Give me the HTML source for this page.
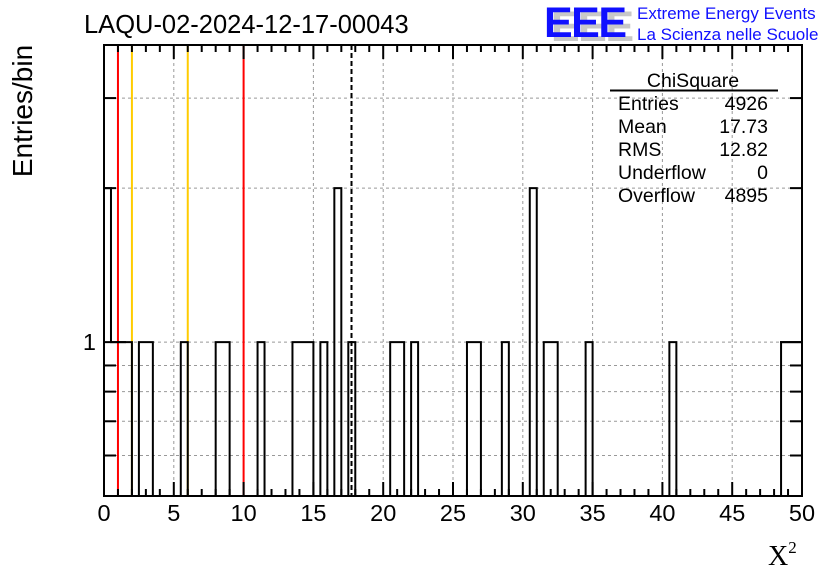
<!DOCTYPE html>
<html><head><meta charset="utf-8"><style>
body{margin:0;background:#fff;}
svg{display:block;font-family:"Liberation Sans",sans-serif;}
</style></head><body>
<svg id="c" width="836" height="572" viewBox="0 0 836 572" xmlns="http://www.w3.org/2000/svg">
<rect width="836" height="572" fill="#fff"/>
<g id="grid"></g>
<g id="vlines"></g>
<g id="bars"></g>
<g id="axes"></g>
<text x="84" y="33" font-size="25.5">LAQU-02-2024-12-17-00043</text>
<text transform="translate(32,111) rotate(-90)" text-anchor="middle" font-size="28">Entries/bin</text>
<text x="768" y="565" font-family="Liberation Serif,serif" font-size="28">X<tspan font-size="17" dy="-12">2</tspan></text>
<g>
<text x="551" y="41" font-size="43" font-weight="bold" fill="#c8c8c8" letter-spacing="-1.5">EEE</text>
<text x="544" y="37" font-size="43" font-weight="bold" fill="#1010ff" letter-spacing="-1.5">EEE</text>
<text x="637" y="19" font-size="17" fill="#1010ff">Extreme Energy Events</text>
<text x="637" y="40" font-size="17" fill="#1010ff">La Scienza nelle Scuole</text>
</g>
<g font-size="19.5">
<text x="693" y="87" text-anchor="middle">ChiSquare</text>
<line x1="610" y1="90.5" x2="778" y2="90.5" stroke="#000" stroke-width="2"/>
<text x="618" y="110">Entries</text><text x="768" y="110" text-anchor="end">4926</text>
<text x="618" y="133">Mean</text><text x="768" y="133" text-anchor="end">17.73</text>
<text x="618" y="156">RMS</text><text x="768" y="156" text-anchor="end">12.82</text>
<text x="618" y="179">Underflow</text><text x="768" y="179" text-anchor="end">0</text>
<text x="618" y="202">Overflow</text><text x="768" y="202" text-anchor="end">4895</text>
</g>
</svg>
<script>
const binStarts=[0,0.5,1,1.5,2.5,3,5.5,8,8.5,11,13.5,14,14.5,15.5,16.5,17.5,20.5,21,22,26,26.5,28.5,30.5,31.5,32,34.5,40.5,48.5,49,49.5];
const binCounts=[2,1,1,1,1,1,1,1,1,1,1,1,1,1,2,1,1,1,1,1,1,1,2,1,1,1,1,1,1,1];
const binWidth=0.5;
const xTicks=[0,5,10,15,20,25,30,35,40,45,50];
const yGrid=[0.6,0.7,0.8,0.9,1,2,3];
const redLines=[1,10];
const yellowLines=[2,6];
const meanLine=[17.73];
const NS="http://www.w3.org/2000/svg";
const L=104,R=802,T=45,B=496,xmin=0,xmax=50,ymin=0.5,ymax=3.81;
const X=v=>L+(v-xmin)/(xmax-xmin)*(R-L);
const Y=v=>B-(Math.log10(v)-Math.log10(ymin))/(Math.log10(ymax)-Math.log10(ymin))*(B-T);
function el(p,t,a){const e=document.createElementNS(NS,t);for(const k in a)e.setAttribute(k,a[k]);p.appendChild(e);return e;}
const g=document.getElementById('grid'),bg=document.getElementById('bars'),vg=document.getElementById('vlines'),ax=document.getElementById('axes');
xTicks.forEach(v=>{if(v>xmin&&v<xmax){const l=el(g,'line',{x1:X(v),x2:X(v),y1:T,y2:B,stroke:'#999','stroke-dasharray':'3,3'});

}});
yGrid.forEach(v=>{const l=el(g,'line',{x1:L,x2:R,y1:Y(v),y2:Y(v),stroke:'#999','stroke-dasharray':'3,3'});

});
redLines.forEach(v=>{const l=el(vg,'line',{x1:X(v),x2:X(v),y1:T,y2:B,stroke:'#f00','stroke-width':2});

});
yellowLines.forEach(v=>{const l=el(vg,'line',{x1:X(v),x2:X(v),y1:T,y2:B,stroke:'#fc0','stroke-width':2});

});
// invisible per-bin rects (data marks)
binStarts.forEach((s,i)=>{const r=el(bg,'rect',{x:X(s),y:Y(binCounts[i]),width:X(s+binWidth)-X(s),height:B-Y(binCounts[i]),fill:'none',stroke:'none'});

});
// histogram outline from data
const counts={};binStarts.forEach((s,i)=>counts[Math.round(s/binWidth)]=(counts[Math.round(s/binWidth)]||0)+binCounts[i]);
let d='M'+X(0)+','+B;let cur=B;
const nb=Math.round((xmax-xmin)/binWidth);
for(let i=0;i<nb;i++){const c=counts[i]||0;const y=c>0?Y(c):B;const x0=X(i*binWidth);
if(y!==cur){d+=' L'+x0+','+cur+' L'+x0+','+y;cur=y;}}
d+=' L'+X(xmax)+','+cur+' L'+X(xmax)+','+B;
const hp=el(bg,'path',{d:d,fill:'none',stroke:'#000','stroke-width':2});


meanLine.forEach(v=>{const l=el(vg,'line',{x1:X(v),x2:X(v),y1:T,y2:B,stroke:'#000','stroke-width':2,'stroke-dasharray':'5,3'});

});
const fr=el(ax,'rect',{x:L,y:T,width:R-L,height:B-T,fill:'none',stroke:'#000','stroke-width':2});


for(let v=0;v<=50;v++){const major=v%5===0;const len=major?14:7;
el(ax,'line',{x1:X(v),x2:X(v),y1:B,y2:B-len,stroke:'#000','stroke-width':2});
el(ax,'line',{x1:X(v),x2:X(v),y1:T,y2:T+len,stroke:'#000','stroke-width':2});}
xTicks.forEach(v=>{const t=el(ax,'text',{x:X(v),y:521,'text-anchor':'middle','font-size':23.5});t.textContent=v;

});
yGrid.forEach(v=>{const len=v===1?22:12;
el(ax,'line',{x1:L,x2:L+len,y1:Y(v),y2:Y(v),stroke:'#000','stroke-width':2});
el(ax,'line',{x1:R,x2:R-len,y1:Y(v),y2:Y(v),stroke:'#000','stroke-width':2});});
const yl=el(ax,'text',{x:96,y:Y(1)+8,'text-anchor':'end','font-size':23.5});yl.textContent='1';


</script>
</body></html>
